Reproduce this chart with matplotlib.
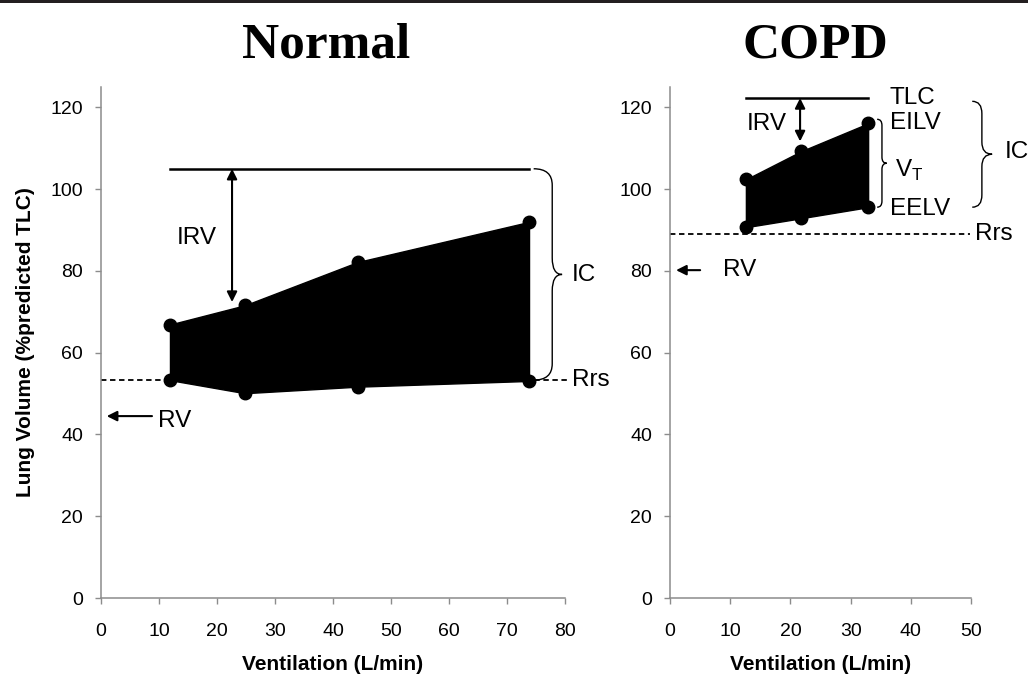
import matplotlib
matplotlib.use('Agg')
from matplotlib import pyplot as plt
from matplotlib.path import Path
from matplotlib.patches import PathPatch, Rectangle

plt.rcParams['font.family'] = ['Liberation Sans', 'DejaVu Sans']
plt.rcParams['mathtext.fontset'] = 'custom'
plt.rcParams['mathtext.rm'] = 'Liberation Sans'

# Normal subject
normal_vent = [11.9, 24.8, 44.3, 73.8]
normal_eilv = [66.9, 71.6, 82.2, 92.0]
normal_eelv = [53.3, 50.1, 51.7, 53.1]
normal_tlc = 105.0
normal_rrs = 53.3
normal_rv = 44.5

# COPD patient
copd_vent = [12.6, 21.8, 32.9]
copd_eilv = [102.4, 109.3, 116.1]
copd_eelv = [90.7, 92.9, 95.6]
copd_tlc = 122.3
copd_rrs = 89.0
copd_rv = 80.2

y_ticks = [0, 20, 40, 60, 80, 100, 120]
ann_size = 17.5
AXIS_GREY = '#8c8c8c'


def brace(ax, x0, x1, x2, ytop, ybot, r):
    # curly brace opening to the left, tip pointing right
    ym = (ytop + ybot) / 2
    verts = [(x0, ytop), (x1, ytop), (x1, ytop - r),
             (x1, ym + r), (x1, ym), (x2, ym),
             (x1, ym), (x1, ym - r),
             (x1, ybot + r), (x1, ybot), (x0, ybot)]
    codes = [Path.MOVETO, Path.CURVE3, Path.CURVE3,
             Path.LINETO, Path.CURVE3, Path.CURVE3,
             Path.CURVE3, Path.CURVE3,
             Path.LINETO, Path.CURVE3, Path.CURVE3]
    ax.add_patch(PathPatch(Path(verts, codes), fill=False, lw=1.0,
                           color='black', clip_on=False))


def arrow(ax, start, end, style):
    ax.annotate('', xy=end, xytext=start, annotation_clip=False,
                arrowprops=dict(arrowstyle=style, color='black', lw=1.5,
                                shrinkA=0, shrinkB=0, mutation_scale=15))


def style_axes(ax, xmax):
    ax.set_xlim(0, xmax)
    ax.set_ylim(0, 125)
    ax.set_yticks(y_ticks)
    ax.set_xticks(range(0, xmax + 1, 10))
    for s in ['top', 'right']:
        ax.spines[s].set_visible(False)
    for s in ['left', 'bottom']:
        ax.spines[s].set_color(AXIS_GREY)
        ax.spines[s].set_linewidth(1.1)
    ax.tick_params(axis='both', colors=AXIS_GREY, labelcolor='black',
                   labelsize=14, length=4, width=1.0)
    ax.tick_params(axis='x', pad=14)
    ax.tick_params(axis='y', pad=9)
    ax.set_xlabel('Ventilation (L/min)', fontsize=15, fontweight='bold',
                  labelpad=11)


def draw_loop(ax, vent, eilv, eelv):
    ax.fill_between(vent, eelv, eilv, color='black', lw=1.0)
    ax.plot(vent, eilv, 'o', color='black', ms=9)
    ax.plot(vent, eelv, 'o', color='black', ms=9)


fig = plt.figure(figsize=(10.28, 6.84), dpi=100)
fig.add_artist(Rectangle((0, 0.996), 1, 0.004, transform=fig.transFigure,
                         color='#231f20', lw=0))

# ---- Normal ----
ax1 = fig.add_axes([0.0982, 0.1257, 0.4514, 0.7471])
style_axes(ax1, 80)
ax1.set_ylabel('Lung Volume (%predicted TLC)', fontsize=15,
               fontweight='bold', labelpad=11)
draw_loop(ax1, normal_vent, normal_eilv, normal_eelv)
ax1.plot([normal_vent[0], normal_vent[-1]], [normal_tlc, normal_tlc],
         color='black', lw=1.8)
ax1.plot([0, 80.5], [normal_rrs, normal_rrs], color='black', lw=1.3,
         ls=(0, (3, 2)), clip_on=False)
arrow(ax1, (22.6, normal_tlc), (22.6, normal_eilv[1] + 0.8), '<|-|>')
ax1.text(13.1, 88, 'IRV', fontsize=ann_size, va='center')
brace(ax1, normal_vent[-1] + 0.8, 77.8, 79.5, normal_tlc, normal_rrs, 4.0)
ax1.text(81.2, 79, 'IC', fontsize=ann_size, va='center')
ax1.text(81.2, normal_rrs, 'Rrs', fontsize=ann_size, va='center')
arrow(ax1, (8.8, normal_rv), (1.0, normal_rv), '-|>')
ax1.text(9.8, normal_rv - 1.2, 'RV', fontsize=ann_size, va='center')

# ---- COPD ----
ax2 = fig.add_axes([0.6518, 0.1257, 0.2928, 0.7471])
style_axes(ax2, 50)
draw_loop(ax2, copd_vent, copd_eilv, copd_eelv)
ax2.plot([copd_vent[0], copd_vent[-1]], [copd_tlc, copd_tlc],
         color='black', lw=1.8)
ax2.plot([0, 49.8], [copd_rrs, copd_rrs], color='black', lw=1.3,
         ls=(0, (3, 2)))
arrow(ax2, (21.6, copd_tlc), (21.6, copd_eilv[1] + 2.4), '<|-|>')
ax2.text(12.8, 116, 'IRV', fontsize=ann_size, va='center')
brace(ax2, 34.4, 35.2, 36.0, copd_eilv[-1] + 1, copd_eelv[-1], 1.5)
brace(ax2, 50.2, 51.8, 53.5, copd_tlc - 0.8, copd_eelv[-1], 3.0)
ax2.text(36.5, copd_tlc, 'TLC', fontsize=ann_size, va='center')
ax2.text(36.5, copd_eilv[-1], 'EILV', fontsize=ann_size, va='center')
ax2.text(37.4, 104.5, r'V$_{\mathregular{T}}$', fontsize=ann_size, va='center')
ax2.text(36.5, copd_eelv[-1] - 0.5, 'EELV', fontsize=ann_size, va='center')
ax2.text(55.6, 109, 'IC', fontsize=ann_size, va='center')
ax2.text(50.6, copd_rrs, 'Rrs', fontsize=ann_size, va='center')
arrow(ax2, (5.0, copd_rv), (1.0, copd_rv), '-|>')
ax2.text(8.8, copd_rv, 'RV', fontsize=ann_size, va='center')

# panel titles
fig.text(326 / 1028, 1 - 45 / 684, 'Normal', family='Liberation Serif',
         fontweight='bold', fontsize=37, ha='center', va='center')
fig.text(815 / 1028, 1 - 45 / 684, 'COPD', family='Liberation Serif',
         fontweight='bold', fontsize=37, ha='center', va='center')

fig.savefig('out.png', dpi=100)
